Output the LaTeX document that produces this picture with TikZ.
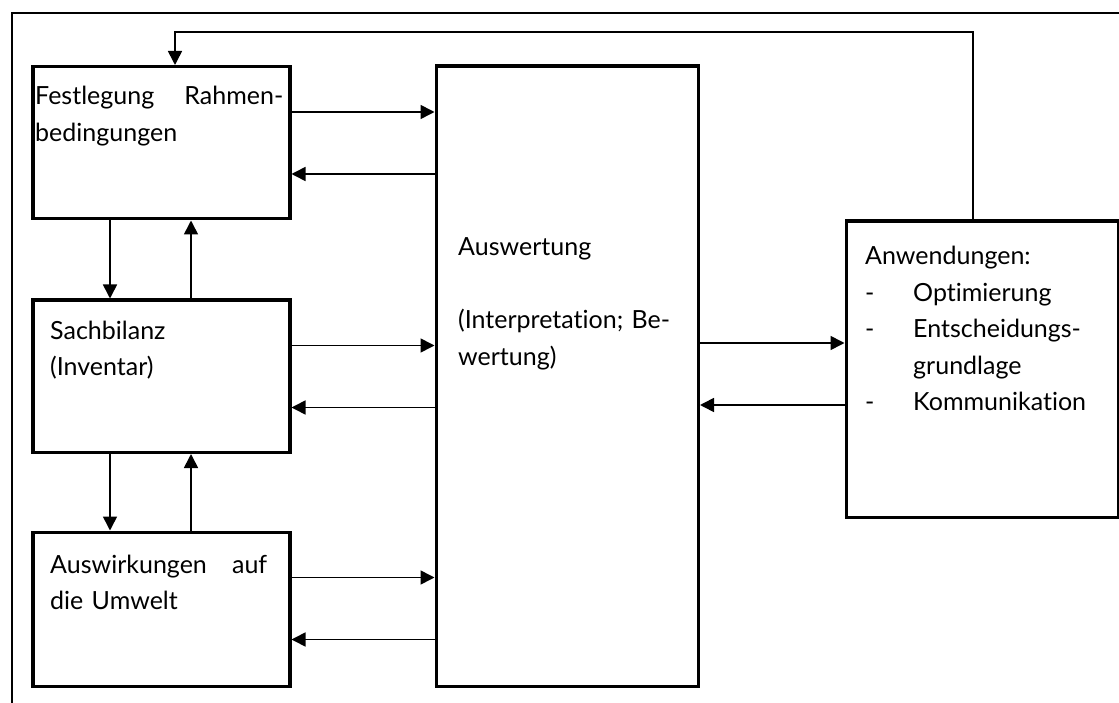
\documentclass[tikz,border=0pt]{standalone}
\usepackage{fontspec}
\setmainfont{Lato}[Ligatures=CommonOff]
\usetikzlibrary{positioning,calc,arrows.meta}
\tikzstyle{line} = [draw, line width=1.6pt, -{Triangle[length=14pt, width=14pt]}]
\tikzstyle{frame} = [draw, line width=1.5pt]
\tikzstyle{box}    = [rectangle, draw, line width=3.5pt, anchor=north west, inner sep=0pt]
\tikzstyle{stage}    = [box, minimum width=257pt, minimum height=152pt]
\tikzstyle{default_text}    = [anchor=base west, inner sep=0pt, align=left, text=black, font=\fontsize{25}{36.5}\selectfont]
\newcommand{\bullitem}[1]{\makebox[48pt][l]{-}#1}

\begin{document}
\begin{tikzpicture}[x=1pt, y=-1pt]
   \useasboundingbox (0,0) rectangle (1119,703);

   % Frame
   \path [frame] (12,703) -- (12,13) -- (1119,13);

   % Phases
   \node at (31,65) [stage] (fest) {};
   \node at (35,105) [default_text, text width=248pt] (fest text) {Festlegung\hfill Rahmen-\\bedingungen};
   \node at (31,298.5) [stage] (sachbilanz) {};
   \node at (50,339) [default_text, text width=220pt] (sachbilanz text) {Sachbilanz\\(Inventar)};
   \node at (31,530.5) [stage, minimum height=154pt] (umwelt) {};
   \node at (50,573) [default_text, text width=217pt] (umwelt text) {Auswirkungen\hfill auf\\die Umwelt};

   % Auswertung
   \node at (434.5,64.5) [box, minimum width=262pt, minimum height=620pt] (auswertung) {};
   \node at (458,256) [default_text, text width=225pt] (auswertung text) {Auswertung\\[36.5pt](Interpretation; Be-\\wertung)};

   % Anwendungen
   \node at (844.5,219.5) [box, minimum width=272pt, minimum height=296pt] (anwendungen) {};
   \node at (865,265) [default_text, text width=240pt] (anwendungen text) {Anwendungen:\\\bullitem{Optimierung}\\\bullitem{Entscheidungs-}\\\hspace*{48pt}grundlage\\\bullitem{Kommunikation}};

   % Phases <-> Auswertung
   \foreach \phase in {fest, sachbilanz, umwelt} {
      \coordinate (\phase out) at ($(\phase.north east)+(0,47)$);
      \coordinate (\phase in) at ($(\phase.north east)+(0,109)$);
      \path [line] (\phase out) -- (\phase out -| auswertung.west);
      \path [line] (\phase in -| auswertung.west) -- (\phase in);
   }

   % Phases up and down
   \path [line] (fest.south -| 110,0) -- (sachbilanz.north -| 110,0);
   \path [line] (sachbilanz.north -| 191,0) -- (fest.south -| 191,0);
   \path [line] (sachbilanz.south -| 110,0) -- (umwelt.north -| 110,0);
   \path [line] (umwelt.north -| 191,0) -- (sachbilanz.south -| 191,0);

   % Auswertung <-> Anwendungen
   \coordinate (anw out) at (auswertung.east |- 0,343);
   \coordinate (anw in) at (auswertung.east |- 0,405);
   \path [line] (anw out) -- (anw out -| anwendungen.west);
   \path [line] (anw in -| anwendungen.west) -- (anw in);

   % Feedback
   \path [line] (anwendungen.north -| 973,0) -- (973,32) -- (175,32) -- (fest.north -| 175,0);
\end{tikzpicture}
\end{document}
